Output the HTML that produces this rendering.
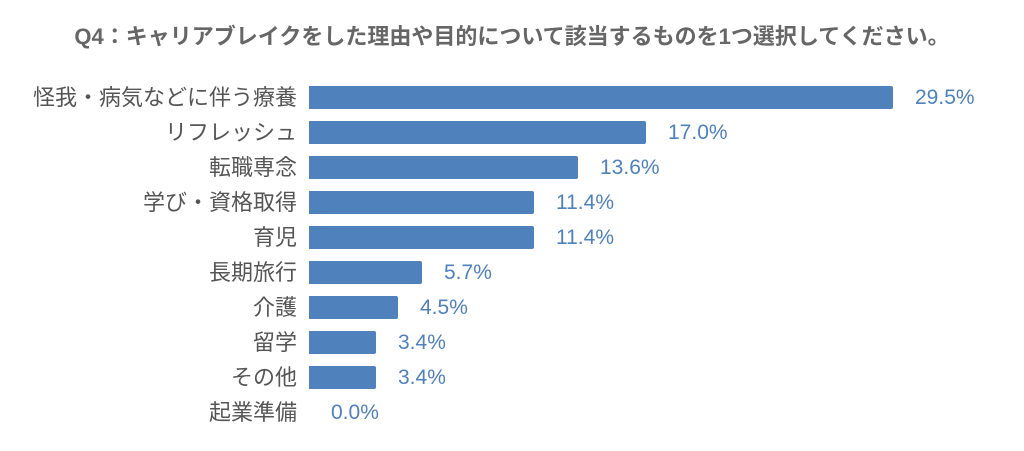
<!DOCTYPE html>
<html><head><meta charset="utf-8"><style>
body{margin:0;width:1024px;height:451px;background:#fff;overflow:hidden;font-family:"Liberation Sans","Noto Sans CJK JP",sans-serif}
.t{position:absolute;left:0;width:1024px;top:19px;text-align:center;font-size:22px;font-weight:bold;color:#666;white-space:nowrap}
.c{position:absolute;right:727px;font-size:22px;color:#555;text-align:right;white-space:nowrap;line-height:23px}
.b{position:absolute;left:309px;height:23px;background:#4f81bd;border-radius:0 2px 2px 0}
.v{position:absolute;font-size:21px;color:#4f81bd;line-height:23px}
</style></head><body>
<div class="t">Q4：キャリアブレイクをした理由や目的について該当するものを1つ選択してください。</div>
<div class="c" style="top:86px">怪我・病気などに伴う療養</div><div class="b" style="top:86px;width:584px"></div><div class="v" style="top:86px;left:915px">29.5%</div>
<div class="c" style="top:121px">リフレッシュ</div><div class="b" style="top:121px;width:337px"></div><div class="v" style="top:121px;left:668px">17.0%</div>
<div class="c" style="top:156px">転職専念</div><div class="b" style="top:156px;width:269px"></div><div class="v" style="top:156px;left:600px">13.6%</div>
<div class="c" style="top:191px">学び・資格取得</div><div class="b" style="top:191px;width:225px"></div><div class="v" style="top:191px;left:556px">11.4%</div>
<div class="c" style="top:226px">育児</div><div class="b" style="top:226px;width:225px"></div><div class="v" style="top:226px;left:556px">11.4%</div>
<div class="c" style="top:261px">長期旅行</div><div class="b" style="top:261px;width:113px"></div><div class="v" style="top:261px;left:444px">5.7%</div>
<div class="c" style="top:296px">介護</div><div class="b" style="top:296px;width:89px"></div><div class="v" style="top:296px;left:420px">4.5%</div>
<div class="c" style="top:331px">留学</div><div class="b" style="top:331px;width:67px"></div><div class="v" style="top:331px;left:398px">3.4%</div>
<div class="c" style="top:366px">その他</div><div class="b" style="top:366px;width:67px"></div><div class="v" style="top:366px;left:398px">3.4%</div>
<div class="c" style="top:401px">起業準備</div><div class="v" style="top:401px;left:331px">0.0%</div>
</body></html>
